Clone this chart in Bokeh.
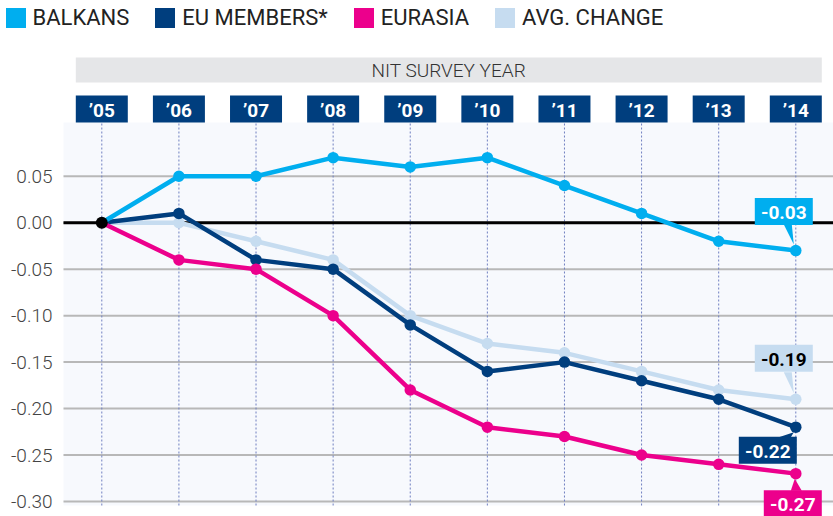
from bokeh.plotting import figure
from bokeh.models import Range1d, Legend, LegendItem
from bokeh.core.properties import value
from bokeh.embed import file_html
from bokeh.resources import INLINE

# ---------------- data ----------------
years = [2005, 2006, 2007, 2008, 2009, 2010, 2011, 2012, 2013, 2014]
year_labels = ["\u201905", "\u201906", "\u201907", "\u201908", "\u201909",
               "\u201910", "\u201911", "\u201912", "\u201913", "\u201914"]
balkans = [0.00, 0.05, 0.05, 0.07, 0.06, 0.07, 0.04, 0.01, -0.02, -0.03]
eu_members = [0.00, 0.01, -0.04, -0.05, -0.11, -0.16, -0.15, -0.17, -0.19, -0.22]
eurasia = [0.00, -0.04, -0.05, -0.10, -0.18, -0.22, -0.23, -0.25, -0.26, -0.27]
avg_change = [0.00, 0.00, -0.02, -0.04, -0.10, -0.13, -0.14, -0.16, -0.18, -0.19]
y_ticks = [-0.30, -0.25, -0.20, -0.15, -0.10, -0.05, 0.00, 0.05]
y_tick_labels = ["-0.30", "-0.25", "-0.20", "-0.15", "-0.10", "-0.05", "0.00", "0.05"]
baseline = [0.00]
series_names = ["BALKANS", "EU MEMBERS*", "EURASIA", "AVG. CHANGE"]
header_text = "NIT SURVEY YEAR"

C_BALK = "#00aeef"
C_EU = "#003e7e"
C_EURA = "#ec008c"
C_AVG = "#c6dcf0"
FONT = "Roboto"
FONT_LIGHT = "Roboto Light, Roboto"

# ---------------- geometry (page pixels -> data) ----------------
W, H = 833, 516
PX_X = 694 / 9          # pixels per year
PX_Y = 929.4            # pixels per unit of change
X0 = years[0] - 101.3 / PX_X
X1 = X0 + W / PX_X
Y1 = 222.2 / PX_Y
Y0 = Y1 - H / PX_Y


def sx(page_x):
    return X0 + page_x / PX_X


def sy(page_y):
    return Y1 - page_y / PX_Y


p = figure(width=W, height=H, x_range=Range1d(X0, X1), y_range=Range1d(Y0, Y1),
           output_backend="svg", toolbar_location=None,
           x_axis_location=None, y_axis_location=None, min_border=0,
           background_fill_color="white", border_fill_color="white", outline_line_color=None)
p.grid.visible = False

PL, PT, PB = sx(63), sy(122), sy(505)

# plot background
p.quad(left=[PL], right=[X1], top=[PT], bottom=[PB], fill_color="#f7f9fd", line_color=None)

# horizontal grid + y tick labels
n = len(y_ticks)
p.segment(x0=[PL] * n, x1=[X1] * n, y0=y_ticks, y1=y_ticks, line_color="#b8b8b8", line_width=2)
p.text(x=[sx(52)] * n, y=y_ticks, text=y_tick_labels, text_font=value(FONT_LIGHT),
       text_font_size="19px", text_color="#444444", text_align="right", text_baseline="middle")

# vertical dotted year lines
p.segment(x0=years, y0=[PB] * len(years), x1=years, y1=[PT] * len(years),
          line_color="#6f7fc0", line_width=1, line_dash="2 2")

# zero line
p.segment(x0=[PL], x1=[X1], y0=baseline, y1=baseline, line_color="black", line_width=3)

# header bar
mid = (years[0] + years[-1]) / 2
p.rect(x=[mid], y=[sy(69.5)], width=[(years[-1] - years[0]) + 52 / PX_X], height=[25 / PX_Y],
       fill_color="#e5e6e8", line_color=None)
p.text(x=[mid], y=[sy(70)], text=[header_text],
       text_font=value(FONT_LIGHT), text_font_size="19px", text_color="#333333",
       text_align="center", text_baseline="middle")

# year boxes
p.rect(x=years, y=[sy(108.5)] * len(years), width=52 / PX_X, height=27 / PX_Y,
       fill_color=C_EU, line_color=None)
p.text(x=years, y=[sy(109.5)] * len(years), text=year_labels,
       text_font=value(FONT), text_font_size="19px", text_font_style="bold",
       text_color="white", text_align="center", text_baseline="middle")

# series
order = [(avg_change, C_AVG), (eu_members, C_EU), (eurasia, C_EURA), (balkans, C_BALK)]
for vals, col in order:
    p.line(years, vals, line_color=col, line_width=4.5, line_join="round")
    p.scatter(years[1:], vals[1:], size=11.5, fill_color=col, line_color=None)
p.scatter([years[0]], [balkans[0]], size=12, fill_color="black", line_color=None)

# callouts: series, colour, text colour, box-centre offset (px), pointer triangle (px)
callouts = [
    (balkans, C_BALK, "white", -12, -39, [(-12, -26), (-4, -26), (-2, -6)]),
    (avg_change, C_AVG, "black", -12, -41, [(-12, -27), (-4, -27), (-2, -6)]),
    (eu_members, C_EU, "white", -28, 23, [(-17, 10), (-5, 10), (-2, 5)]),
    (eurasia, C_EURA, "white", -3, 30, [(-5, 17), (6, 17), (-1, 5)]),
]
for vals, col, tcol, dx, dy, tri in callouts:
    xv, yv = years[-1], vals[-1]
    cx = xv + dx / PX_X
    cy = yv - dy / PX_Y
    p.patch([xv + a / PX_X for a, b in tri], [yv - b / PX_Y for a, b in tri],
            fill_color=col, line_color=None)
    p.rect(x=[cx], y=[cy], width=58 / PX_X, height=27 / PX_Y, fill_color=col, line_color=None)
    p.text(x=[cx], y=[cy - 1 / PX_Y], text=[f"{yv:.2f}"], text_font=value(FONT),
           text_font_size="19px", text_font_style="bold", text_color=tcol,
           text_align="center", text_baseline="middle")

# legend with square swatches (swatch renderers sit outside the visible range)
items = []
for name, col in zip(series_names, [C_BALK, C_EU, C_EURA, C_AVG]):
    r = p.quad(left=[X0 - 3], right=[X0 - 2], top=[Y0 - 2], bottom=[Y0 - 3],
               fill_color=col, line_color=None)
    items.append(LegendItem(label=name, renderers=[r]))
legend = Legend(items=items, orientation="horizontal", location=(2.5, H - 29.5),
                padding=0, margin=0, spacing=23, glyph_width=25, glyph_height=25,
                label_standoff=5, label_text_font=FONT, label_text_font_size="22px",
                label_text_color="#222222", label_height=25,
                background_fill_alpha=0, border_line_alpha=0)
p.add_layout(legend)

open("out.html", "w").write(file_html(p, INLINE))
